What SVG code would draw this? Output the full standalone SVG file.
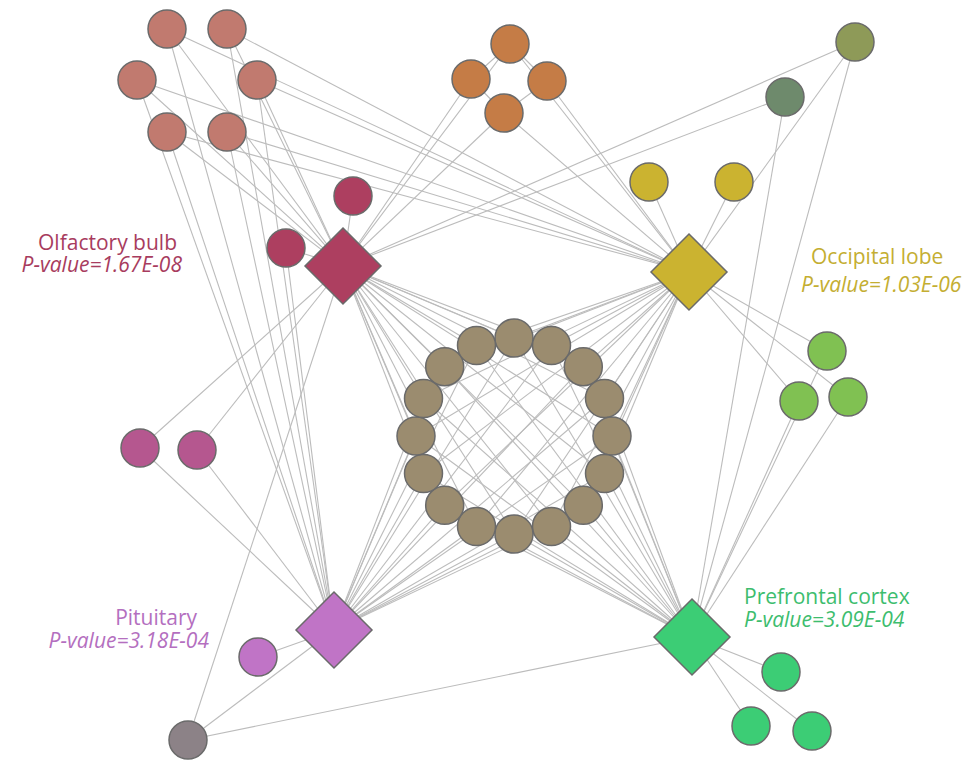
<svg xmlns="http://www.w3.org/2000/svg" width="975" height="760" viewBox="0 0 975 760">
<style>
.e{stroke:#bcbcbc;stroke-width:1.1;fill:none}
.n{stroke:#6a6a6a;stroke-width:1.5}
.pk{fill:#c17a6f}.rd{fill:#ad3f60}.or{fill:#c57c46}.ol{fill:#8e9a58}.dg{fill:#6e8a6c}
.ye{fill:#cbb330}.lg{fill:#80c152}.gr{fill:#3ccd75}.mg{fill:#b5578f}.pu{fill:#c074c6}
.gy{fill:#8c8287}.br{fill:#9b8c6f}
.lbl{font-family:"Open Sans","Liberation Sans",sans-serif;font-size:21px}
.it{font-style:italic}
</style>
<defs>
<polygon id="dia" points="0,-38 38,0 0,38 -38,0"/>
</defs>
<rect width="975" height="760" fill="#ffffff"/>
<g id="connectors" class="e">
<!-- pink to tissues -->
<line x1="167" y1="29" x2="343" y2="266"/><line x1="167" y1="29" x2="689" y2="272"/><line x1="167" y1="29" x2="334" y2="630"/>
<line x1="227" y1="29" x2="343" y2="266"/><line x1="227" y1="29" x2="689" y2="272"/><line x1="227" y1="29" x2="334" y2="630"/>
<line x1="137" y1="80" x2="343" y2="266"/><line x1="137" y1="80" x2="689" y2="272"/><line x1="137" y1="80" x2="334" y2="630"/>
<line x1="257" y1="80" x2="343" y2="266"/><line x1="257" y1="80" x2="689" y2="272"/><line x1="257" y1="80" x2="334" y2="630"/>
<line x1="167" y1="132" x2="343" y2="266"/><line x1="167" y1="132" x2="689" y2="272"/><line x1="167" y1="132" x2="334" y2="630"/>
<line x1="227" y1="132" x2="343" y2="266"/><line x1="227" y1="132" x2="689" y2="272"/><line x1="227" y1="132" x2="334" y2="630"/>
<!-- red -->
<line x1="353" y1="196" x2="343" y2="266"/><line x1="286" y1="248" x2="343" y2="266"/><line x1="286" y1="248" x2="334" y2="630"/>
<!-- orange -->
<line x1="510" y1="44" x2="471" y2="79"/><line x1="510" y1="44" x2="547" y2="81"/><line x1="471" y1="79" x2="504" y2="113"/><line x1="547" y1="81" x2="504" y2="113"/>
<line x1="510" y1="44" x2="343" y2="266"/><line x1="471" y1="79" x2="343" y2="266"/><line x1="504" y1="113" x2="343" y2="266"/>
<line x1="510" y1="44" x2="689" y2="272"/><line x1="547" y1="81" x2="689" y2="272"/><line x1="504" y1="113" x2="689" y2="272"/>
<!-- olive / dark green -->
<line x1="855" y1="42" x2="343" y2="266"/><line x1="855" y1="42" x2="689" y2="272"/><line x1="855" y1="42" x2="692" y2="637"/>
<line x1="785" y1="97" x2="343" y2="266"/><line x1="785" y1="97" x2="692" y2="637"/>
<!-- yellow -->
<line x1="649" y1="182" x2="689" y2="272"/><line x1="734" y1="182" x2="689" y2="272"/>
<!-- light green -->
<line x1="827" y1="351" x2="689" y2="272"/><line x1="799" y1="401" x2="689" y2="272"/><line x1="848" y1="397" x2="689" y2="272"/>
<line x1="827" y1="351" x2="692" y2="637"/><line x1="799" y1="401" x2="692" y2="637"/><line x1="848" y1="397" x2="692" y2="637"/>
<!-- magenta -->
<line x1="140" y1="448" x2="343" y2="266"/><line x1="197" y1="450" x2="343" y2="266"/>
<line x1="140" y1="448" x2="334" y2="630"/><line x1="197" y1="450" x2="334" y2="630"/>
<line x1="258" y1="657" x2="334" y2="630"/>
<!-- gray -->
<line x1="188" y1="740" x2="343" y2="266"/><line x1="188" y1="740" x2="334" y2="630"/><line x1="188" y1="740" x2="692" y2="637"/>
<!-- green -->
<line x1="781" y1="672" x2="692" y2="637"/><line x1="751" y1="726" x2="692" y2="637"/><line x1="812" y1="731" x2="692" y2="637"/>
<!-- olfactory to ring -->
<line x1="343" y1="266" x2="514" y2="338"/><line x1="343" y1="266" x2="551.5" y2="345.5"/><line x1="343" y1="266" x2="583.3" y2="366.7"/><line x1="343" y1="266" x2="604.5" y2="398.5"/>
<line x1="343" y1="266" x2="612" y2="436"/><line x1="343" y1="266" x2="604.5" y2="473.5"/><line x1="343" y1="266" x2="583.3" y2="505.3"/><line x1="343" y1="266" x2="551.5" y2="526.5"/>
<line x1="343" y1="266" x2="514" y2="534"/><line x1="343" y1="266" x2="476.5" y2="526.5"/><line x1="343" y1="266" x2="444.7" y2="505.3"/><line x1="343" y1="266" x2="423.5" y2="473.5"/>
<line x1="343" y1="266" x2="416" y2="436"/><line x1="343" y1="266" x2="423.5" y2="398.5"/><line x1="343" y1="266" x2="444.7" y2="366.7"/><line x1="343" y1="266" x2="476.5" y2="345.5"/>
<!-- occipital to ring -->
<line x1="689" y1="272" x2="514" y2="338"/><line x1="689" y1="272" x2="551.5" y2="345.5"/><line x1="689" y1="272" x2="583.3" y2="366.7"/><line x1="689" y1="272" x2="604.5" y2="398.5"/>
<line x1="689" y1="272" x2="612" y2="436"/><line x1="689" y1="272" x2="604.5" y2="473.5"/><line x1="689" y1="272" x2="583.3" y2="505.3"/><line x1="689" y1="272" x2="551.5" y2="526.5"/>
<line x1="689" y1="272" x2="514" y2="534"/><line x1="689" y1="272" x2="476.5" y2="526.5"/><line x1="689" y1="272" x2="444.7" y2="505.3"/><line x1="689" y1="272" x2="423.5" y2="473.5"/>
<line x1="689" y1="272" x2="416" y2="436"/><line x1="689" y1="272" x2="423.5" y2="398.5"/><line x1="689" y1="272" x2="444.7" y2="366.7"/><line x1="689" y1="272" x2="476.5" y2="345.5"/>
<!-- pituitary to ring -->
<line x1="334" y1="630" x2="514" y2="338"/><line x1="334" y1="630" x2="551.5" y2="345.5"/><line x1="334" y1="630" x2="583.3" y2="366.7"/><line x1="334" y1="630" x2="604.5" y2="398.5"/>
<line x1="334" y1="630" x2="612" y2="436"/><line x1="334" y1="630" x2="604.5" y2="473.5"/><line x1="334" y1="630" x2="583.3" y2="505.3"/><line x1="334" y1="630" x2="551.5" y2="526.5"/>
<line x1="334" y1="630" x2="514" y2="534"/><line x1="334" y1="630" x2="476.5" y2="526.5"/><line x1="334" y1="630" x2="444.7" y2="505.3"/><line x1="334" y1="630" x2="423.5" y2="473.5"/>
<line x1="334" y1="630" x2="416" y2="436"/><line x1="334" y1="630" x2="423.5" y2="398.5"/><line x1="334" y1="630" x2="444.7" y2="366.7"/><line x1="334" y1="630" x2="476.5" y2="345.5"/>
<!-- prefrontal to ring -->
<line x1="692" y1="637" x2="514" y2="338"/><line x1="692" y1="637" x2="551.5" y2="345.5"/><line x1="692" y1="637" x2="583.3" y2="366.7"/><line x1="692" y1="637" x2="604.5" y2="398.5"/>
<line x1="692" y1="637" x2="612" y2="436"/><line x1="692" y1="637" x2="604.5" y2="473.5"/><line x1="692" y1="637" x2="583.3" y2="505.3"/><line x1="692" y1="637" x2="551.5" y2="526.5"/>
<line x1="692" y1="637" x2="514" y2="534"/><line x1="692" y1="637" x2="476.5" y2="526.5"/><line x1="692" y1="637" x2="444.7" y2="505.3"/><line x1="692" y1="637" x2="423.5" y2="473.5"/>
<line x1="692" y1="637" x2="416" y2="436"/><line x1="692" y1="637" x2="423.5" y2="398.5"/><line x1="692" y1="637" x2="444.7" y2="366.7"/><line x1="692" y1="637" x2="476.5" y2="345.5"/>
</g>
<g id="nodes" class="n">
<g id="pink1"><circle class="pk" cx="167" cy="29" r="19"/></g>
<g id="pink2"><circle class="pk" cx="227" cy="29" r="19"/></g>
<g id="pink3"><circle class="pk" cx="137" cy="80" r="19"/></g>
<g id="pink4"><circle class="pk" cx="257" cy="80" r="19"/></g>
<g id="pink5"><circle class="pk" cx="167" cy="132" r="19"/></g>
<g id="pink6"><circle class="pk" cx="227" cy="132" r="19"/></g>
<g id="red1"><circle class="rd" cx="353" cy="196" r="19"/></g>
<g id="red2"><circle class="rd" cx="286" cy="248" r="19"/></g>
<g id="orange1"><circle class="or" cx="510" cy="44" r="19"/></g>
<g id="orange2"><circle class="or" cx="471" cy="79" r="19"/></g>
<g id="orange3"><circle class="or" cx="547" cy="81" r="19"/></g>
<g id="orange4"><circle class="or" cx="504" cy="113" r="19"/></g>
<g id="olive"><circle class="ol" cx="855" cy="42" r="19"/></g>
<g id="darkgreen"><circle class="dg" cx="785" cy="97" r="19"/></g>
<g id="yellow1"><circle class="ye" cx="649" cy="182" r="19"/></g>
<g id="yellow2"><circle class="ye" cx="734" cy="182" r="19"/></g>
<g id="lgreen1"><circle class="lg" cx="827" cy="351" r="19"/></g>
<g id="lgreen2"><circle class="lg" cx="799" cy="401" r="19"/></g>
<g id="lgreen3"><circle class="lg" cx="848" cy="397" r="19"/></g>
<g id="magenta1"><circle class="mg" cx="140" cy="448" r="19"/></g>
<g id="magenta2"><circle class="mg" cx="197" cy="450" r="19"/></g>
<g id="pitcircle"><circle class="pu" cx="258" cy="657" r="19"/></g>
<g id="gray"><circle class="gy" cx="188" cy="740" r="19"/></g>
<g id="green1"><circle class="gr" cx="781" cy="672" r="19"/></g>
<g id="green2"><circle class="gr" cx="751" cy="726" r="19"/></g>
<g id="green3"><circle class="gr" cx="812" cy="731" r="19"/></g>
<g id="ring0"><circle class="br" cx="514" cy="338" r="19"/></g>
<g id="ring1"><circle class="br" cx="551.5" cy="345.5" r="19"/></g>
<g id="ring2"><circle class="br" cx="583.3" cy="366.7" r="19"/></g>
<g id="ring3"><circle class="br" cx="604.5" cy="398.5" r="19"/></g>
<g id="ring4"><circle class="br" cx="612" cy="436" r="19"/></g>
<g id="ring5"><circle class="br" cx="604.5" cy="473.5" r="19"/></g>
<g id="ring6"><circle class="br" cx="583.3" cy="505.3" r="19"/></g>
<g id="ring7"><circle class="br" cx="551.5" cy="526.5" r="19"/></g>
<g id="ring8"><circle class="br" cx="514" cy="534" r="19"/></g>
<g id="ring9"><circle class="br" cx="476.5" cy="526.5" r="19"/></g>
<g id="ring10"><circle class="br" cx="444.7" cy="505.3" r="19"/></g>
<g id="ring11"><circle class="br" cx="423.5" cy="473.5" r="19"/></g>
<g id="ring12"><circle class="br" cx="416" cy="436" r="19"/></g>
<g id="ring13"><circle class="br" cx="423.5" cy="398.5" r="19"/></g>
<g id="ring14"><circle class="br" cx="444.7" cy="366.7" r="19"/></g>
<g id="ring15"><circle class="br" cx="476.5" cy="345.5" r="19"/></g>
<g id="olfactory"><use href="#dia" class="rd" x="343" y="266"/></g>
<g id="occipital"><use href="#dia" class="ye" x="689" y="272"/></g>
<g id="pituitary"><use href="#dia" class="pu" x="334" y="630"/></g>
<g id="prefrontal"><use href="#dia" class="gr" x="692" y="637"/></g>
</g>
<g id="labels" class="lbl">
<text x="177" y="250" text-anchor="end" fill="#a83c5e">Olfactory bulb</text>
<text class="it" x="182" y="272" text-anchor="end" fill="#a83c5e">P-value=1.67E-08</text>
<text x="811" y="264" fill="#c4ae32">Occipital lobe</text>
<text class="it" x="801" y="292" fill="#c4ae32">P-value=1.03E-06</text>
<text x="197" y="625" text-anchor="end" fill="#b46fbf">Pituitary</text>
<text class="it" x="209" y="648" text-anchor="end" fill="#b46fbf">P-value=3.18E-04</text>
<text x="744" y="604" fill="#3dbd6e">Prefrontal cortex</text>
<text class="it" x="744" y="627" fill="#3dbd6e">P-value=3.09E-04</text>
</g>
</svg>
